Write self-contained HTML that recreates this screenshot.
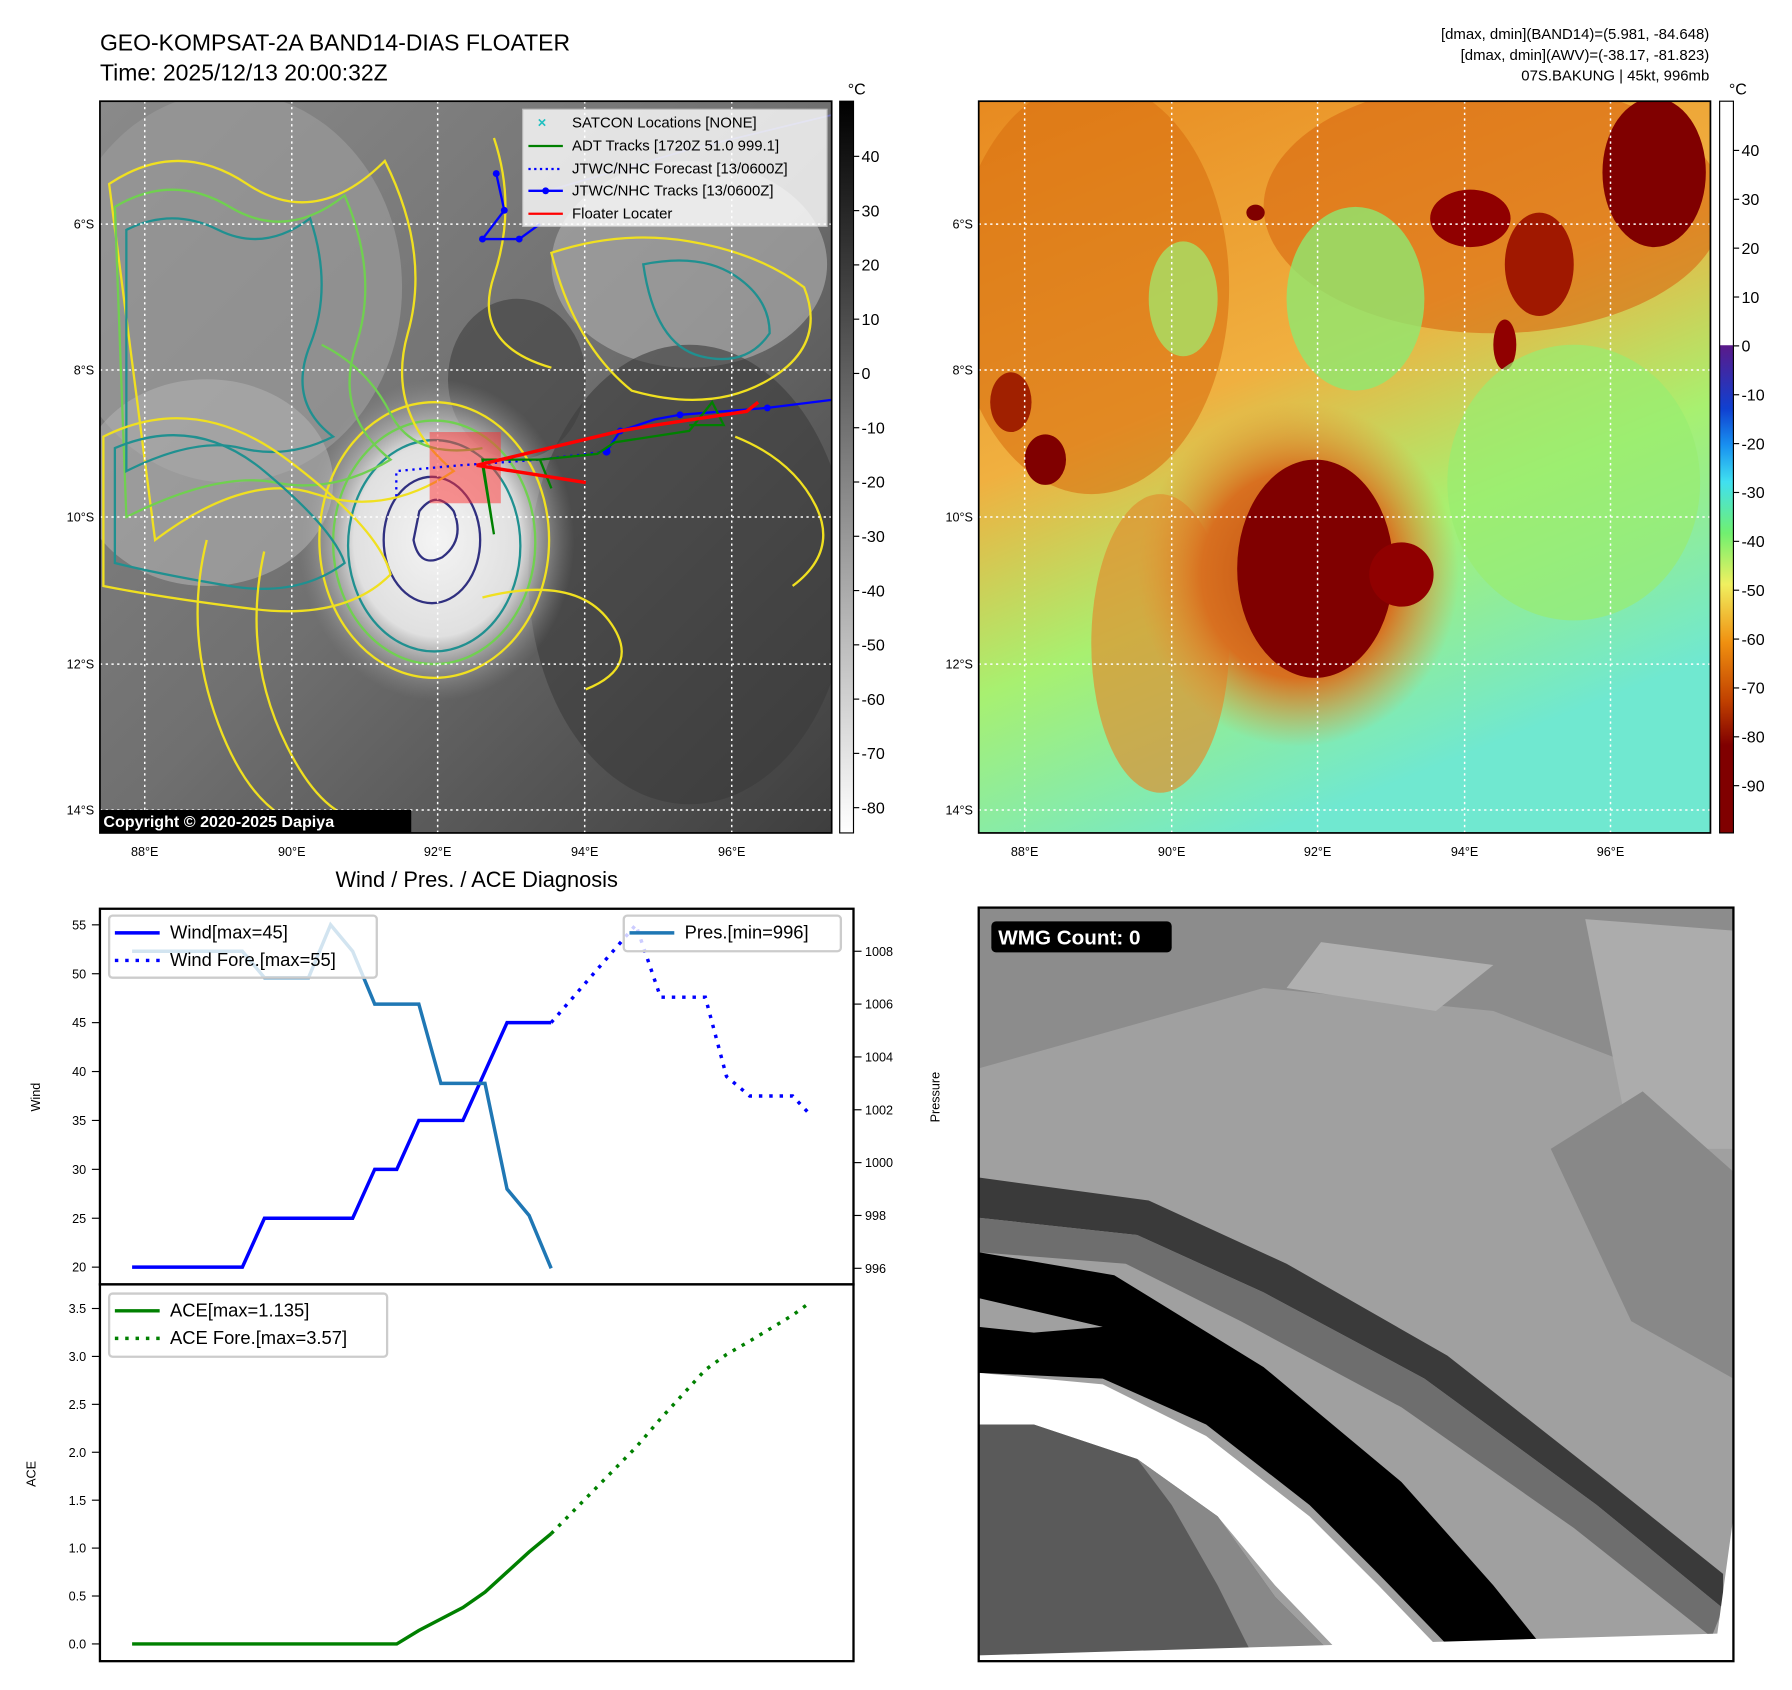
<!DOCTYPE html>
<html><head><meta charset="utf-8"><style>
html,body{margin:0;padding:0;background:#fff;}
svg{display:block;font-family:"Liberation Sans","DejaVu Sans",sans-serif;}
</style></head><body>
<svg id="fig" width="1792" height="1690" viewBox="0 0 1560 1471" xmlns="http://www.w3.org/2000/svg">
<defs>
<radialGradient id="storm" cx="50%" cy="50%" r="50%"><stop offset="0" stop-color="#f4f4f4"/><stop offset="0.6" stop-color="#e0e0e0"/><stop offset="1" stop-color="#9a9a9a" stop-opacity="0"/></radialGradient>
<linearGradient id="grayL" x1="0" y1="0" x2="1" y2="1"><stop offset="0" stop-color="#8a8a8a"/><stop offset="0.5" stop-color="#707070"/><stop offset="1" stop-color="#3e3e3e"/></linearGradient>
<linearGradient id="cbL" x1="0" y1="0" x2="0" y2="1"><stop offset="0" stop-color="#000"/><stop offset="1" stop-color="#fff"/></linearGradient>
<linearGradient id="cbR" x1="0" y1="0" x2="0" y2="1">
<stop offset="0" stop-color="#fff"/><stop offset="0.333" stop-color="#fff"/><stop offset="0.334" stop-color="#5a1a8a"/>
<stop offset="0.42" stop-color="#1040d0"/><stop offset="0.47" stop-color="#1890f0"/><stop offset="0.52" stop-color="#40e0f0"/>
<stop offset="0.59" stop-color="#70f070"/><stop offset="0.66" stop-color="#f0f060"/><stop offset="0.74" stop-color="#f09010"/>
<stop offset="0.82" stop-color="#c04000"/><stop offset="0.88" stop-color="#800000"/><stop offset="1" stop-color="#800000"/></linearGradient>
<linearGradient id="rbg" x1="0" y1="0" x2="0.4" y2="1"><stop offset="0" stop-color="#e88a20"/><stop offset="0.45" stop-color="#f0b040"/><stop offset="0.7" stop-color="#a8f070"/><stop offset="1" stop-color="#70e8d0"/></linearGradient>
<radialGradient id="eye" cx="50%" cy="50%" r="50%"><stop offset="0" stop-color="#c05010"/><stop offset="0.6" stop-color="#d87020"/><stop offset="1" stop-color="#e89030" stop-opacity="0"/></radialGradient>
<clipPath id="clipL"><rect x="87" y="88" width="637" height="637"/></clipPath>
<clipPath id="clipR"><rect x="852" y="88" width="637" height="637"/></clipPath>
<clipPath id="clipB"><rect x="852" y="790" width="657" height="656"/></clipPath>
</defs>

<text x="87" y="44" font-size="20">GEO-KOMPSAT-2A BAND14-DIAS FLOATER</text>
<text x="87" y="70" font-size="20">Time: 2025/12/13 20:00:32Z</text>
<g font-size="13" text-anchor="end">
<text x="1488" y="34">[dmax, dmin](BAND14)=(5.981, -84.648)</text>
<text x="1488" y="52">[dmax, dmin](AWV)=(-38.17, -81.823)</text>
<text x="1488" y="70">07S.BAKUNG | 45kt, 996mb</text>
</g>

<g clip-path="url(#clipL)">
<rect x="87" y="88" width="637" height="637" fill="url(#grayL)"/>
<ellipse cx="200" cy="250" rx="150" ry="170" fill="#9a9a9a" opacity="0.7"/>
<ellipse cx="600" cy="230" rx="120" ry="90" fill="#a8a8a8" opacity="0.7"/>
<ellipse cx="180" cy="420" rx="110" ry="90" fill="#b0b0b0" opacity="0.6"/>
<ellipse cx="600" cy="500" rx="140" ry="200" fill="#3a3a3a" opacity="0.6"/>
<ellipse cx="450" cy="330" rx="60" ry="70" fill="#404040" opacity="0.6"/>
<ellipse cx="380" cy="470" rx="120" ry="140" fill="url(#storm)"/>
<g fill="none" stroke-width="2">
<ellipse cx="378" cy="470" rx="100" ry="120" stroke="#f0e020"/>
<ellipse cx="378" cy="472" rx="88" ry="106" stroke="#70d050"/>
<ellipse cx="378" cy="475" rx="75" ry="92" stroke="#209090"/>
<ellipse cx="376" cy="470" rx="42" ry="55" stroke="#303080"/>
<path d="M365 445 q15 -20 30 0 q10 25 -10 40 q-20 10 -25 -15z" stroke="#303080"/>
<path d="M95 160 q60 -40 120 0 t120 -20 q40 80 20 150 t40 120 q-60 40 -120 20 t-140 40z" stroke="#f0e020"/>
<path d="M100 180 q50 -30 100 0 t100 -10 q30 70 10 130 t30 100 q-50 30 -100 20 t-130 30z" stroke="#70d050"/>
<path d="M110 200 q40 -20 80 0 t80 -10 q20 60 0 110 t20 80 q-40 20 -80 10 t-100 20z" stroke="#209090"/>
<path d="M480 220 q60 -20 120 -10 t100 40 q20 50 -30 80 t-120 10 q-50 -40 -70 -120z" stroke="#f0e020"/>
<path d="M560 230 q50 -10 80 10 t30 50 q-20 30 -60 20 t-50 -80z" stroke="#209090"/>
<path d="M90 380 q80 -40 160 20 t90 100 q-40 40 -120 30 t-130 -20z" stroke="#f0e020"/>
<path d="M100 390 q70 -30 130 20 t70 80 q-40 30 -100 20 t-100 -20z" stroke="#209090"/>
<path d="M180 470 q-20 80 10 160 t80 90" stroke="#f0e020"/>
<path d="M230 480 q-20 90 20 170 t90 60" stroke="#f0e020"/>
<path d="M420 520 q80 -20 110 20 t-20 60" stroke="#f0e020"/>
<path d="M640 380 q50 20 70 60 t-20 70" stroke="#f0e020"/>
<path d="M430 120 q20 60 0 120 t50 80" stroke="#f0e020"/>
<path d="M280 300 q40 20 60 60 t80 30" stroke="#70d050"/>
</g>
<g stroke="#fff" stroke-width="1.3" stroke-dasharray="2 3">
<line x1="126" y1="88" x2="126" y2="725"/><line x1="254" y1="88" x2="254" y2="725"/><line x1="381" y1="88" x2="381" y2="725"/><line x1="509" y1="88" x2="509" y2="725"/><line x1="637" y1="88" x2="637" y2="725"/>
<line x1="87" y1="195" x2="724" y2="195"/><line x1="87" y1="322" x2="724" y2="322"/><line x1="87" y1="450" x2="724" y2="450"/><line x1="87" y1="578" x2="724" y2="578"/><line x1="87" y1="705" x2="724" y2="705"/>
</g>
<rect x="374" y="376" width="62" height="62" fill="#ff3030" opacity="0.5"/>
<polyline points="480,165 600,130 724,100" fill="none" stroke="#8080ff" stroke-width="1.5" opacity="0.5"/>
<polyline points="432,151 439,183 420,208 452,208 470,195" fill="none" stroke="#0000ff" stroke-width="2"/>
<g fill="#0000ff"><circle cx="432" cy="151" r="3"/><circle cx="439" cy="183" r="3"/><circle cx="420" cy="208" r="3"/><circle cx="452" cy="208" r="3"/></g>
<polyline points="345,432 345,410 400,405 470,400 528,393" fill="none" stroke="#0000ff" stroke-width="2" stroke-dasharray="2 4"/>
<polyline points="528,393 540,375 570,365 592,361 668,355 724,348" fill="none" stroke="#0000ff" stroke-width="2"/>
<g fill="#0000ff"><circle cx="528" cy="393" r="3.5"/><circle cx="540" cy="375" r="3"/><circle cx="592" cy="361" r="3"/><circle cx="668" cy="355" r="3"/></g>
<polyline points="420,405 430,465 420,400 470,400 480,425 470,400 520,395 535,385 600,375 620,350 630,370 600,370" fill="none" stroke="#008000" stroke-width="2"/>
<polyline points="660,350 650,358 570,370 540,375 415,405 510,420" fill="none" stroke="#ff0000" stroke-width="3"/>
<g>
<rect x="455" y="95" width="265" height="102" fill="#fff" opacity="0.8" stroke="#ccc"/>
<text x="468" y="111" font-size="13" fill="#20c0c0" font-weight="bold">×</text>
<line x1="460" y1="127" x2="490" y2="127" stroke="#008000" stroke-width="2"/>
<line x1="460" y1="147" x2="490" y2="147" stroke="#0000ff" stroke-width="2" stroke-dasharray="2 3"/>
<line x1="460" y1="166" x2="490" y2="166" stroke="#0000ff" stroke-width="2"/><circle cx="475" cy="166" r="3" fill="#0000ff"/>
<line x1="460" y1="186" x2="490" y2="186" stroke="#ff0000" stroke-width="2"/>
<g font-size="13"><text x="498" y="111">SATCON Locations [NONE]</text><text x="498" y="131">ADT Tracks [1720Z 51.0 999.1]</text><text x="498" y="151">JTWC/NHC Forecast [13/0600Z]</text><text x="498" y="170">JTWC/NHC Tracks [13/0600Z]</text><text x="498" y="190">Floater Locater</text></g>
</g>
<rect x="87" y="705" width="271" height="20" fill="#000"/>
<text x="90" y="720" font-size="14" font-weight="bold" fill="#fff">Copyright © 2020-2025 Dapiya</text>
</g>
<rect x="87" y="88" width="637" height="637" fill="none" stroke="#000" stroke-width="1.5"/>

<g clip-path="url(#clipR)">
<rect x="852" y="88" width="637" height="637" fill="url(#rbg)"/>
<ellipse cx="950" cy="250" rx="120" ry="180" fill="#d87010" opacity="0.6"/>
<ellipse cx="1300" cy="180" rx="200" ry="110" fill="#d86810" opacity="0.6"/>
<ellipse cx="1440" cy="150" rx="45" ry="65" fill="#800000"/>
<ellipse cx="1280" cy="190" rx="35" ry="25" fill="#900000"/>
<ellipse cx="1340" cy="230" rx="30" ry="45" fill="#a01800"/>
<ellipse cx="1310" cy="300" rx="10" ry="22" fill="#900000"/>
<ellipse cx="1093" cy="185" rx="8" ry="7" fill="#800000"/>
<ellipse cx="910" cy="400" rx="18" ry="22" fill="#800000"/>
<ellipse cx="880" cy="350" rx="18" ry="26" fill="#a02000"/>
<ellipse cx="1180" cy="260" rx="60" ry="80" fill="#8fe870" opacity="0.8"/>
<ellipse cx="1030" cy="260" rx="30" ry="50" fill="#9ef070" opacity="0.7"/>
<ellipse cx="1370" cy="420" rx="110" ry="120" fill="#98ec70" opacity="0.7"/>
<ellipse cx="1010" cy="560" rx="60" ry="130" fill="#e09030" opacity="0.7"/>
<ellipse cx="1130" cy="500" rx="140" ry="150" fill="url(#eye)"/>
<ellipse cx="1145" cy="495" rx="68" ry="95" fill="#800000"/>
<ellipse cx="1220" cy="500" rx="28" ry="28" fill="#900000"/>
<g stroke="#fff" stroke-width="1.3" stroke-dasharray="2 3">
<line x1="892" y1="88" x2="892" y2="725"/><line x1="1020" y1="88" x2="1020" y2="725"/><line x1="1147" y1="88" x2="1147" y2="725"/><line x1="1275" y1="88" x2="1275" y2="725"/><line x1="1402" y1="88" x2="1402" y2="725"/>
<line x1="852" y1="195" x2="1489" y2="195"/><line x1="852" y1="322" x2="1489" y2="322"/><line x1="852" y1="450" x2="1489" y2="450"/><line x1="852" y1="578" x2="1489" y2="578"/><line x1="852" y1="705" x2="1489" y2="705"/>
</g>
</g>
<rect x="852" y="88" width="637" height="637" fill="none" stroke="#000" stroke-width="1.5"/>

<g font-size="11">
<g text-anchor="end"><text x="82" y="199">6°S</text><text x="82" y="326">8°S</text><text x="82" y="454">10°S</text><text x="82" y="582">12°S</text><text x="82" y="709">14°S</text>
<text x="847" y="199">6°S</text><text x="847" y="326">8°S</text><text x="847" y="454">10°S</text><text x="847" y="582">12°S</text><text x="847" y="709">14°S</text></g>
<g text-anchor="middle"><text x="126" y="745">88°E</text><text x="254" y="745">90°E</text><text x="381" y="745">92°E</text><text x="509" y="745">94°E</text><text x="637" y="745">96°E</text>
<text x="892" y="745">88°E</text><text x="1020" y="745">90°E</text><text x="1147" y="745">92°E</text><text x="1275" y="745">94°E</text><text x="1402" y="745">96°E</text></g>
</g>

<rect x="731" y="88" width="12" height="637" fill="url(#cbL)" stroke="#000"/>
<rect x="1497" y="88" width="12" height="637" fill="url(#cbR)" stroke="#000"/>
<text x="738" y="82" font-size="14">°C</text>
<text x="1505" y="82" font-size="14">°C</text>
<g id="cbticks" font-size="14"></g>

<text x="415" y="772" font-size="19" text-anchor="middle">Wind / Pres. / ACE Diagnosis</text>
<g id="charts"></g>

<g clip-path="url(#clipB)">
<rect x="852" y="790" width="657" height="656" fill="#a0a0a0"/>
<polygon points="852,790 1509,790 1509,960 1300,880 1100,860 852,930" fill="#8c8c8c"/>
<polygon points="1150,820 1300,840 1250,880 1120,860" fill="#b0b0b0"/>
<polygon points="1380,800 1509,810 1509,1000 1420,1000" fill="#acacac"/>
<polygon points="1350,1000 1430,950 1509,1020 1509,1200 1420,1150" fill="#888"/>
<polygon points="852,1030 1509,1330 1509,1446 852,1446" fill="#a0a0a0"/>
<polygon points="852,1025 1000,1045 1120,1100 1260,1180 1400,1290 1500,1370 1500,1400 1390,1310 1240,1200 1100,1125 990,1075 852,1060" fill="#3a3a3a"/>
<polygon points="852,1060 990,1075 1100,1125 1240,1200 1390,1310 1500,1400 1490,1425 1370,1330 1220,1225 1080,1150 980,1100 852,1090" fill="#6e6e6e"/>
<polygon points="852,1090 970,1110 1100,1190 1220,1290 1300,1380 1340,1430 1260,1432 1200,1370 1140,1310 1050,1240 960,1200 852,1195" fill="#000"/>
<polygon points="852,1130 960,1155 900,1160 852,1155" fill="#a0a0a0"/>
<polygon points="852,1195 960,1205 1050,1250 1140,1320 1200,1380 1250,1432 1160,1432 1110,1380 1060,1320 990,1270 900,1240 852,1240" fill="#fff"/>
<polygon points="852,1240 900,1240 990,1270 1060,1320 1110,1390 1160,1440 852,1446" fill="#5a5a5a"/>
<polygon points="990,1270 1060,1320 1110,1390 1160,1440 1090,1440 1060,1380 1020,1310" fill="#888"/>
<polygon points="852,1441 1495,1422 1509,1320 1509,1446 852,1446" fill="#fff"/>
<rect x="863" y="802" width="157" height="27" rx="4" fill="#000"/>
<text x="869" y="822" font-size="18" font-weight="bold" fill="#fff">WMG Count: 0</text>
</g>
<rect x="852" y="790" width="657" height="656" fill="none" stroke="#000" stroke-width="2"/>
</svg>

<script>
const obsIndex = [0,1,2,3,4,5,6,7,8,9,10,11,12,13,14,15,16,17,18,19];
const windObs = [20,20,20,20,20,20,25,25,25,25,25,30,30,35,35,35,40,45,45,45];
const presObs = [1008,1008,1008,1008,1008,1008,1007,1007,1007,1009,1008,1006,1006,1006,1003,1003,1003,999,998,996];
const aceObs = [0,0,0,0,0,0,0,0,0,0,0,0,0,0.14,0.26,0.38,0.54,0.75,0.96,1.15];
const foreIndex = [19,22.84,23.96,25.99,26.95,28,29.95,30.78];
const windFore = [45,55,47.6,47.6,39.5,37.5,37.5,35.5];
const aceFore = [1.15,2.05,2.35,2.86,3.02,3.16,3.43,3.57];
const windTicks = [20,25,30,35,40,45,50,55];
const presTicks = [996,998,1000,1002,1004,1006,1008];
const aceTicks = [0,0.5,1,1.5,2,2.5,3,3.5];
const cbLeftTicks = [40,30,20,10,0,-10,-20,-30,-40,-50,-60,-70,-80];
const cbRightTicks = [40,30,20,10,0,-10,-20,-30,-40,-50,-60,-70,-80,-90];

const NS='http://www.w3.org/2000/svg';
function mk(tag, attrs, parent){const e=document.createElementNS(NS,tag);for(const k in attrs)e.setAttribute(k,attrs[k]);parent.appendChild(e);return e;}
const X = i => 115 + 19.2*i;
const YW = v => 805 + (55-v)*8.514;
const YP = p => 1104 - (p-996)*23;
const YA = a => 1431 - a*83.43;
const g = document.getElementById('charts');

function line(xs, ys, fx, fy, color, dash, name){
  const pts = xs.map((x,k)=>fx(x)+','+fy(ys[k])).join(' ');
  const e = mk('polyline',{points:pts,fill:'none',stroke:color,'stroke-width':3,'stroke-linejoin':'miter'},g);
  if(dash) e.setAttribute('stroke-dasharray',dash);
  
  
}
function tickLabel(x,y,txt,anchor,size){const t=mk('text',{x:x,y:y,'font-size':size||11,'text-anchor':anchor},g);t.textContent=txt;return t;}

const f1 = mk('rect',{x:87,y:791,width:656,height:327,fill:'none',stroke:'#000','stroke-width':2},g);


const f2 = mk('rect',{x:87,y:1118,width:656,height:328,fill:'none',stroke:'#000','stroke-width':2},g);



windTicks.forEach(v=>{mk('line',{x1:80,x2:87,y1:YW(v),y2:YW(v),stroke:'#000'},g);tickLabel(75,YW(v)+4,String(v),'end');});
presTicks.forEach(v=>{mk('line',{x1:743,x2:750,y1:YP(v),y2:YP(v),stroke:'#000'},g);tickLabel(753,YP(v)+4,String(v),'start');});
aceTicks.forEach(v=>{mk('line',{x1:80,x2:87,y1:YA(v),y2:YA(v),stroke:'#000'},g);tickLabel(75,YA(v)+4,v.toFixed(1),'end');});
const wl=tickLabel(0,0,'Wind','middle',11); wl.setAttribute('transform','translate(35,955) rotate(-90)');

const pl=tickLabel(0,0,'Pressure','middle',11); pl.setAttribute('transform','translate(818,955) rotate(-90)');

const al=tickLabel(0,0,'ACE','middle',11); al.setAttribute('transform','translate(31,1283) rotate(-90)');


line(obsIndex, windObs, X, YW, '#0000ff', null, 'wind-line');
line(foreIndex, windFore, X, YW, '#0000ff', '3 6', 'wind-forecast-line');
line(obsIndex, presObs, X, YP, '#1f77b4', null, 'pressure-line');
line(obsIndex, aceObs, X, YA, '#008000', null, 'ace-line');
line(foreIndex, aceFore, X, YA, '#008000', '3 6', 'ace-forecast-line');

function legend(x,y,w,h,items,name){
  const lg=mk('g',{},g);
  
  
  mk('rect',{x:x,y:y,width:w,height:h,fill:'#fff','fill-opacity':0.8,stroke:'#ccc','stroke-width':2,rx:3},lg);
  items.forEach((it,k)=>{const yy=y+15+k*24;
    const l=mk('line',{x1:x+5,x2:x+44,y1:yy,y2:yy,stroke:it[1],'stroke-width':3},lg);
    if(it[2]) l.setAttribute('stroke-dasharray','3 6');
    const t=mk('text',{x:x+53,y:yy+5,'font-size':16},lg);t.textContent=it[0];});
}
legend(95,797,233,54,[['Wind[max=45]','#0000ff',false],['Wind Fore.[max=55]','#0000ff',true]],'wind-legend');
legend(543,797,189,31,[['Pres.[min=996]','#1f77b4',false]],'pressure-legend');
legend(95,1126,242,55,[['ACE[max=1.135]','#008000',false],['ACE Fore.[max=3.57]','#008000',true]],'ace-legend');

const cb=document.getElementById('cbticks');
cbLeftTicks.forEach(v=>{const y=325-v*4.725;mk('line',{x1:743,x2:748,y1:y,y2:y,stroke:'#000'},cb);const t=mk('text',{x:750,y:y+5,'font-size':14},cb);t.textContent=String(v);});
cbRightTicks.forEach(v=>{const y=301-v*4.254;mk('line',{x1:1509,x2:1514,y1:y,y2:y,stroke:'#000'},cb);const t=mk('text',{x:1516,y:y+5,'font-size':14},cb);t.textContent=String(v);});
</script>
</body></html>
